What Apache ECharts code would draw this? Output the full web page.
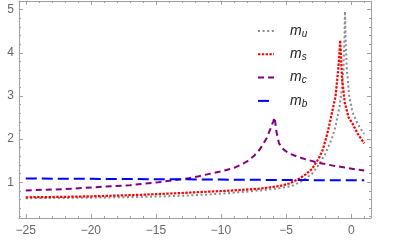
<!DOCTYPE html>
<html>
<head>
<meta charset="utf-8">
<script src="https://cdn.jsdelivr.net/npm/echarts@6/dist/echarts.min.js"></script>
<style>html,body{margin:0;padding:0;background:#fff}#c{width:415px;height:248px}</style>
</head>
<body>
<div id="c"></div>
<script>
// ---- data ----
var seriesNames = ['u', 's', 'c', 'b'];

var muX = [-25, -22, -19, -16, -13, -11, -9, -7, -5.5, -4.5, -3.75, -3, -2.5, -2, -1.5, -1.2, -0.9, -0.75, -0.6, -0.52, -0.48, -0.43, -0.35, -0.15, 0.1, 0.36, 0.6, 0.85, 1];
var muY = [0.63, 0.635, 0.645, 0.66, 0.685, 0.715, 0.755, 0.81, 0.86, 0.92, 1.03, 1.2, 1.4, 1.65, 2.0, 2.3, 2.75, 3.1, 3.6, 4.3, 4.96, 4.3, 3.68, 2.98, 2.62, 2.44, 2.3, 2.18, 2.12];

var msX = [-25, -22, -19, -16, -13, -11, -9, -7, -5.5, -4.75, -4, -3.5, -3, -2.5, -2.2, -1.9, -1.7, -1.45, -1.2, -1.0, -0.9, -0.85, -0.78, -0.7, -0.5, -0.2, 0.1, 0.5, 1.0];
var msY = [0.65, 0.66, 0.68, 0.71, 0.75, 0.78, 0.81, 0.85, 0.91, 0.97, 1.08, 1.18, 1.31, 1.55, 1.74, 2.05, 2.3, 2.65, 3.0, 3.6, 4.0, 4.29, 3.9, 3.4, 2.85, 2.5, 2.36, 2.12, 1.9];

var mcX = [-25, -22, -19.4, -17, -14.8, -12.5, -11.7, -10.15, -9, -8.5, -8, -7.5, -7, -6.5, -6.2, -6.0, -5.88, -5.75, -5.55, -5.2, -4.8, -4.2, -3.5, -2.5, -1.5, -0.5, 0.3, 1];
var mcY = [0.81, 0.84, 0.89, 0.93, 1.0, 1.09, 1.14, 1.24, 1.33, 1.4, 1.48, 1.6, 1.77, 2.02, 2.24, 2.4, 2.5, 2.18, 1.9, 1.76, 1.67, 1.6, 1.53, 1.45, 1.39, 1.34, 1.3, 1.27];

var mbX = [-25, -20, -15, -10, -5, 0, 1];
var mbY = [1.085, 1.078, 1.07, 1.06, 1.05, 1.045, 1.045];

var xMajor = [-25, -20, -15, -10, -5, 0];
var xMinor = [-25, -24, -23, -22, -21, -20, -19, -18, -17, -16, -15, -14, -13, -12, -11, -10, -9, -8, -7, -6, -5, -4, -3, -2, -1, 0, 1];
var yMajor = [1, 2, 3, 4, 5];
var yMinor = [0.2, 0.4, 0.6, 0.8, 1, 1.2, 1.4, 1.6, 1.8, 2, 2.2, 2.4, 2.6, 2.8, 3, 3.2, 3.4, 3.6, 3.8, 4, 4.2, 4.4, 4.6, 4.8, 5];

// ---- chart ----
function pairs(xs, ys) { return xs.map(function (x, i) { return [x, ys[i]]; }); }
var XMIN = -25.52, XMAX = 1.52, YMIN = 0.17, YMAX = 5.2;
var frameColor = '#a0a0a0';
var labelColor = '#666666';

function xAx(pos, major, withLabel, withLine) {
  return {
    type: 'value', position: pos, min: XMIN, max: XMAX, splitLine: { show: false },
    axisLine: { show: withLine, onZero: false, lineStyle: { color: frameColor, width: 1 } },
    axisTick: { show: true, inside: true, customValues: major ? xMajor : xMinor, length: major ? 4 : 2, lineStyle: { color: frameColor } },
    axisLabel: withLabel ? { show: true, customValues: xMajor, margin: 7, color: labelColor, fontSize: 12, fontFamily: 'Liberation Sans',
      formatter: function (v) { return v < 0 ? '\u2212' + Math.abs(v) : String(v); } } : { show: false }
  };
}
function yAx(pos, major, withLabel, withLine) {
  return {
    type: 'value', position: pos, min: YMIN, max: YMAX, splitLine: { show: false },
    axisLine: { show: withLine, onZero: false, lineStyle: { color: frameColor, width: 1 } },
    axisTick: { show: true, inside: true, customValues: major ? yMajor : yMinor, length: major ? 4 : 2, lineStyle: { color: frameColor } },
    axisLabel: withLabel ? { show: true, customValues: yMajor, margin: 5, color: labelColor, fontSize: 12, fontFamily: 'Liberation Sans' } : { show: false }
  };
}

function legendName(sub) { return '{m|m}{s|' + sub + '}'; }

var styles = [
  { color: '#8a8a8a', width: 2, type: [2, 2.6] },
  { color: '#ff0000', width: 2.2, type: [2.4, 1.4] },
  { color: '#800080', width: 2, type: [6, 4] },
  { color: '#0000ff', width: 2, type: [11, 5] }
];
var datas = [pairs(muX, muY), pairs(msX, msY), pairs(mcX, mcY), pairs(mbX, mbY)];

var series = seriesNames.map(function (n, i) {
  return {
    name: n, type: 'line', xAxisIndex: 0, yAxisIndex: 0, data: datas[i],
    symbol: 'none', showSymbol: false, smooth: false, animation: false,
    lineStyle: styles[i], itemStyle: { color: styles[i].color }
  };
});

var chart = echarts.init(document.getElementById('c'), null, { renderer: 'canvas' });
chart.setOption({
  animation: false,
  grid: { left: 19, right: 44, top: 1, bottom: 30, containLabel: false },
  xAxis: [xAx('bottom', true, true, true), xAx('bottom', false, false, false), xAx('top', true, false, true), xAx('top', false, false, false)],
  yAxis: [yAx('left', true, true, true), yAx('left', false, false, false), yAx('right', true, false, true), yAx('right', false, false, false)],
  legend: {
    orient: 'vertical', left: 252, top: 19, itemWidth: 16, itemHeight: 10, itemGap: 8.3,
    data: seriesNames,
    itemStyle: { opacity: 0, borderWidth: 0 },
    formatter: function (n) { return legendName(n); },
    textStyle: {
      padding: [0, 0, 0, 11],
      rich: {
        m: { fontSize: 14, lineHeight: 16, fontStyle: 'italic', fontFamily: 'Liberation Sans', color: '#222' },
        s: { fontSize: 10, lineHeight: 10, fontStyle: 'italic', fontFamily: 'Liberation Sans', color: '#222', verticalAlign: 'bottom' }
      }
    }
  },
  series: series
});
</script>
</body>
</html>
